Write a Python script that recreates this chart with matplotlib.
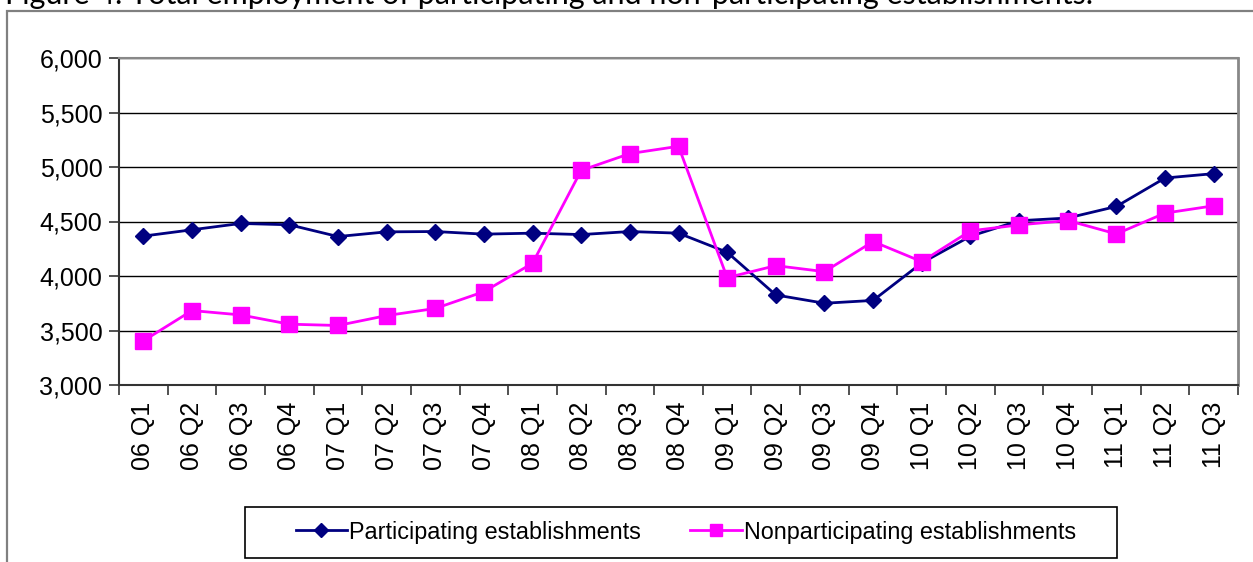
import matplotlib.pyplot as plt
from matplotlib.patches import Rectangle
from matplotlib.ticker import FuncFormatter, MultipleLocator

quarters = [
    "06 Q1", "06 Q2", "06 Q3", "06 Q4",
    "07 Q1", "07 Q2", "07 Q3", "07 Q4",
    "08 Q1", "08 Q2", "08 Q3", "08 Q4",
    "09 Q1", "09 Q2", "09 Q3", "09 Q4",
    "10 Q1", "10 Q2", "10 Q3", "10 Q4",
    "11 Q1", "11 Q2", "11 Q3",
]
participating = [
    4366, 4424, 4482, 4470,
    4362, 4405, 4408, 4384,
    4393, 4380, 4408, 4393,
    4218, 3826, 3750, 3776,
    4120, 4365, 4507, 4532,
    4638, 4899, 4939,
]
nonparticipating = [
    3405, 3683, 3643, 3558,
    3546, 3637, 3702, 3856,
    4117, 4969, 5123, 5190,
    3985, 4095, 4040, 4316,
    4132, 4414, 4469, 4509,
    4386, 4577, 4644,
]

W, H = 1253, 562
plt.rcParams["font.family"] = ["Liberation Sans", "DejaVu Sans"]

fig = plt.figure(figsize=(W / 100, H / 100), dpi=100)
ax = fig.add_axes([119 / W, 1 - 385 / H, (1238 - 119) / W, (385 - 58) / H])

# outer chart frame, running off the bottom and right edges
fig.patches.append(Rectangle((7 / W, -0.05), 1.1, 1 - 11 / H + 0.05,
                             transform=fig.transFigure, fill=False,
                             edgecolor="#808080", linewidth=1.6))

fig.text(5 / W, 1 - 4 / H, "Figure 4. Total employment of participating and "
         "non-participating establishments.", family="Lato", fontsize=22,
         va="baseline", ha="left")

x = range(len(quarters))
ax.plot(x, participating, color="#000080", linewidth=2, marker="D",
        markersize=8, label="Participating establishments")
ax.plot(x, nonparticipating, color="#FF00FF", linewidth=2, marker="s",
        markersize=11, label="Nonparticipating establishments")

ax.set_ylim(3000, 6000)
ax.set_xlim(-0.5, len(quarters) - 0.5)
ax.yaxis.set_major_locator(MultipleLocator(500))
ax.yaxis.set_major_formatter(FuncFormatter(lambda v, p: f"{v:,.0f}"))
ax.grid(axis="y", color="black", linewidth=1)
ax.set_axisbelow(True)

ax.set_xticks([i + 0.5 for i in range(-1, len(quarters))])
ax.set_xticklabels([])
ax.set_xticks(list(x), minor=True)
ax.set_xticklabels(quarters, minor=True, rotation=90, fontsize=18)
ax.tick_params(axis="x", which="minor", length=0, pad=12)
ax.tick_params(axis="x", which="major", length=7, width=1.2, color="#333333")
ax.tick_params(axis="y", length=7, width=1.2, color="#333333", labelsize=18,
               pad=5)

for side in ("left", "bottom"):
    ax.spines[side].set_color("#333333")
    ax.spines[side].set_linewidth(1.5)
ax.spines["right"].set_color("#888888")
ax.spines["right"].set_linewidth(2)
ax.spines["top"].set_color("#888888")
ax.spines["top"].set_linewidth(1.5)

# legend box drawn by hand so its side padding can be wider than its top/bottom
fig.patches.append(Rectangle((245 / W, 1 - 558 / H), (1117 - 245) / W,
                             (558 - 507) / H, transform=fig.transFigure,
                             fill=False, edgecolor="black", linewidth=1.2))
ax.legend(loc="center", bbox_to_anchor=(686 / W, 1 - 532 / H),
          bbox_transform=fig.transFigure, ncol=2, fontsize=16.8,
          frameon=False, handlelength=2.2, handletextpad=0.1,
          columnspacing=2.1, markerscale=0.85)

fig.savefig("out.png", dpi=100)
